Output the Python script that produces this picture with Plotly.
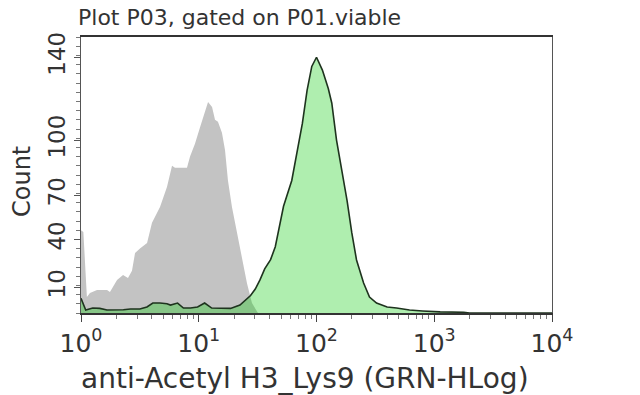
import plotly.graph_objects as go

# ---- data (x in log10 decades of GRN-HLog, y = count) ----
grey_log = [0.0, 0.02, 0.05, 0.076, 0.136, 0.221, 0.246, 0.306, 0.357, 0.399, 0.433,
            0.459, 0.501, 0.561, 0.603, 0.671, 0.730, 0.773, 0.798, 0.841, 0.900,
            0.926, 0.968, 1.011, 1.053, 1.079, 1.113, 1.138, 1.163, 1.197, 1.223,
            1.248, 1.282, 1.325, 1.367, 1.410, 1.452, 1.503, 4.0]
grey_cnt = [45, 44, 8.7, 10.9, 12.5, 12.5, 11.4, 18, 20.6, 19, 23,
            32.6, 35, 38, 49, 57.6, 68.5, 80, 79, 79, 79,
            85, 92, 101, 108.7, 114.7, 112, 105, 104, 98, 88.6,
            72, 57.6, 43.5, 28.8, 16, 5.4, 0, 0]

green_log = [0.0, 0.017, 0.04, 0.10, 0.16, 0.22, 0.29, 0.36, 0.42, 0.50, 0.56,
             0.61, 0.67, 0.73, 0.76, 0.82, 0.87, 0.93, 0.99, 1.05, 1.11, 1.18,
             1.27, 1.35, 1.41, 1.44, 1.48, 1.52, 1.56, 1.61, 1.65, 1.69, 1.72,
             1.79, 1.83, 1.88, 1.92, 1.96, 2.00, 2.05, 2.10, 2.13, 2.17, 2.22,
             2.26, 2.30, 2.34, 2.40, 2.45, 2.51, 2.60, 2.68, 2.79, 2.90, 3.05,
             3.25, 3.30, 4.0]
green_cnt = [8, 5, 1.6, 2.7, 2.5, 1.6, 1.6, 1.8, 2.2, 2.2, 3.3,
             5.4, 5.4, 5.0, 4.3, 5.4, 2.7, 2.7, 3.3, 5.4, 2.7, 2.7,
             2.5, 4.3, 8, 9.5, 13, 18, 24, 29, 36, 48, 58,
             72, 85, 103, 121, 134, 139, 132, 122, 114, 94, 76,
             61, 43.5, 28.8, 16.3, 8.7, 5.4, 3.3, 2.7, 1.6, 1.1, 0.6,
             0.4, 0, 0]

x_tick_vals = [1, 10, 100, 1000, 10000]
x_tick_text = ["10<sup>0</sup>", "10<sup>1</sup>", "10<sup>2</sup>", "10<sup>3</sup>", "10<sup>4</sup>"]
x_minor_vals = [m * d for d in [1, 10, 100, 1000] for m in range(2, 10)]

y_tick_text = ["10", "40", "70", "100", "140"]
y_tick_pos = [14, 40, 64, 94, 139]

title_text = "Plot P03, gated on P01.viable"
x_title = "anti-Acetyl H3_Lys9 (GRN-HLog)"
y_title = "Count"

W, H = 640, 395
L, R, T, B = 81, 552, 37, 313

fig = go.Figure()
fig.add_trace(go.Scatter(
    x=[10 ** v for v in grey_log], y=grey_cnt, mode="lines",
    line=dict(color="rgba(0,0,0,0)", width=0), fill="tozeroy",
    fillcolor="#c3c3c3", hoverinfo="skip", showlegend=False))
fig.add_trace(go.Scatter(
    x=[10 ** v for v in green_log], y=green_cnt, mode="lines",
    line=dict(color="#1e331e", width=1.6), fill="tozeroy",
    fillcolor="rgba(20,205,20,0.34)", hoverinfo="skip", showlegend=False))

font_family = "DejaVu Sans, Verdana, sans-serif"
fig.update_layout(
    width=W, height=H,
    margin=dict(l=L, r=W - R, t=T, b=H - B),
    paper_bgcolor="white", plot_bgcolor="white",
    font=dict(family=font_family, color="#333333"),
    title=dict(text=title_text, xref="container", yref="container",
               x=78 / W, xanchor="left", y=1 - 17 / H, yanchor="middle",
               font=dict(size=22, color="#333333", family=font_family)),
    xaxis=dict(type="log", range=[0, 4], tickmode="array",
               tickvals=x_tick_vals, ticktext=x_tick_text,
               ticks="outside", ticklen=7, tickcolor="#444",
               tickfont=dict(size=25, color="#333"),
               showline=True, linecolor="#333", linewidth=1.5, mirror=True,
               showgrid=False, zeroline=False,
               minor=dict(tickmode="array", tickvals=x_minor_vals,
                          ticks="outside", ticklen=4, tickcolor="#777")),
    yaxis=dict(range=[0, 150], tickmode="array",
               tickvals=y_tick_pos, ticktext=y_tick_text,
               tickangle=-90, ticks="outside", ticklen=6, tickcolor="#555",
               tickfont=dict(size=23, color="#333"),
               showline=True, linecolor="#555", linewidth=1.2, mirror=True,
               showgrid=False, zeroline=False,
               minor=dict(tickmode="linear", tick0=0, dtick=5,
                          ticks="outside", ticklen=4, tickcolor="#777")),
    annotations=[
        dict(text=x_title, xref="paper", yref="paper",
             x=(305 - L) / (R - L), y=-(378 - B) / (B - T),
             xanchor="center", yanchor="middle", showarrow=False,
             font=dict(size=28, color="#333", family=font_family)),
        dict(text=y_title, xref="paper", yref="paper",
             x=-(L - 22) / (R - L), y=(B - 182) / (B - T),
             xanchor="center", yanchor="middle", showarrow=False, textangle=-90,
             font=dict(size=24, color="#333", family=font_family)),
    ],
)

fig.write_html("out.html", config={"displayModeBar": False},
               post_script="document.body.style.margin='0';document.body.style.overflow='hidden';")
